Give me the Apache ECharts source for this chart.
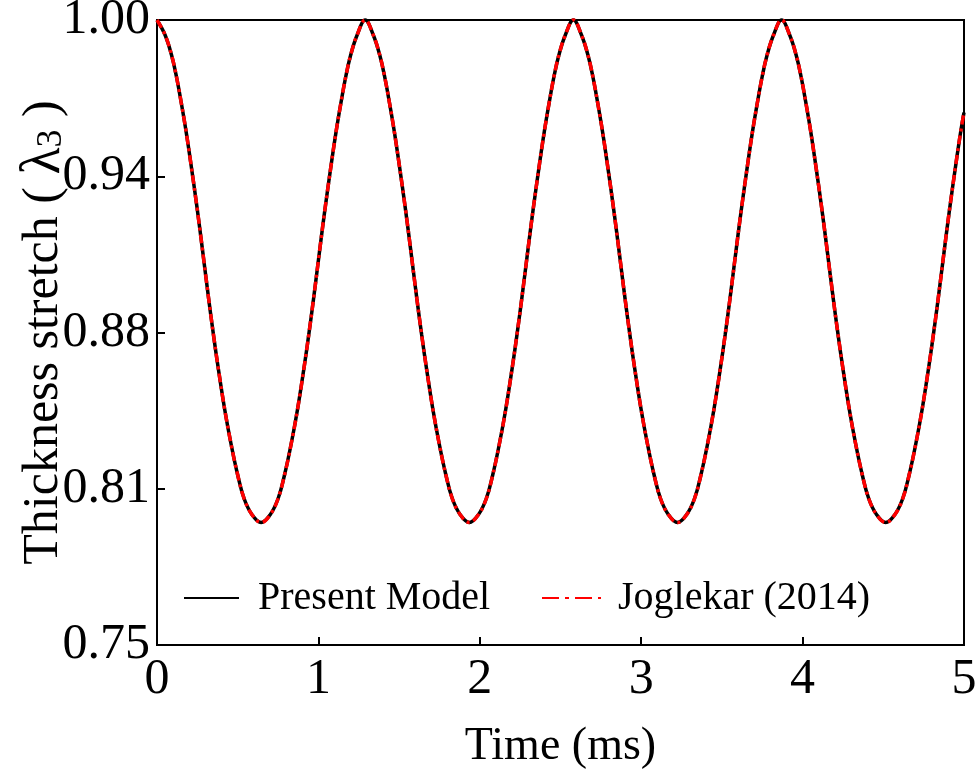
<!DOCTYPE html>
<html>
<head>
<meta charset="utf-8">
<script src="https://cdn.jsdelivr.net/npm/echarts@6/dist/echarts.min.js"></script>
<style>
html,body{margin:0;padding:0;background:#fff;}
#chart{width:976px;height:771px;}
</style>
</head>
<body>
<div id="chart"></div>
<script>
// Time (ms)
var timeMs = [
  0, 0.05, 0.09, 0.12, 0.15, 0.18, 0.21, 0.25, 0.28, 0.32, 0.35, 0.38, 0.42, 0.46, 0.50, 0.54, 0.59, 0.645,
  0.70, 0.75, 0.79, 0.83, 0.87, 0.91, 0.94, 0.97, 1.01, 1.04, 1.08, 1.11, 1.14, 1.17, 1.20, 1.24, 1.29,
  1.34, 1.38, 1.41, 1.44, 1.47, 1.50, 1.54, 1.57, 1.61, 1.64, 1.67, 1.71, 1.75, 1.79, 1.83, 1.88, 1.935,
  1.99, 2.04, 2.08, 2.12, 2.16, 2.20, 2.23, 2.26, 2.30, 2.33, 2.37, 2.40, 2.43, 2.46, 2.49, 2.53, 2.58,
  2.63, 2.67, 2.70, 2.73, 2.76, 2.79, 2.83, 2.86, 2.90, 2.93, 2.96, 3.00, 3.04, 3.08, 3.12, 3.17, 3.225,
  3.28, 3.33, 3.37, 3.41, 3.45, 3.49, 3.52, 3.55, 3.59, 3.62, 3.66, 3.69, 3.72, 3.75, 3.78, 3.82, 3.87,
  3.92, 3.96, 3.99, 4.02, 4.05, 4.08, 4.12, 4.15, 4.19, 4.22, 4.25, 4.29, 4.33, 4.37, 4.41, 4.46, 4.515,
  4.57, 4.62, 4.66, 4.70, 4.74, 4.78, 4.81, 4.84, 4.88, 4.91, 4.95, 4.98, 5.00
];
// Thickness stretch, Present Model
var presentModel = [
  1.0000, 0.9940, 0.9860, 0.9775, 0.9670, 0.9555, 0.9425, 0.9240, 0.9090, 0.8885, 0.8740, 0.8605, 0.8440, 0.8300, 0.8180, 0.8085, 0.8020, 0.7990,
  0.8020, 0.8085, 0.8180, 0.8300, 0.8440, 0.8605, 0.8740, 0.8885, 0.9090, 0.9240, 0.9425, 0.9555, 0.9670, 0.9775, 0.9860, 0.9940, 1.0000,
  0.9940, 0.9860, 0.9775, 0.9670, 0.9555, 0.9425, 0.9240, 0.9090, 0.8885, 0.8740, 0.8605, 0.8440, 0.8300, 0.8180, 0.8085, 0.8020, 0.7990,
  0.8020, 0.8085, 0.8180, 0.8300, 0.8440, 0.8605, 0.8740, 0.8885, 0.9090, 0.9240, 0.9425, 0.9555, 0.9670, 0.9775, 0.9860, 0.9940, 1.0000,
  0.9940, 0.9860, 0.9775, 0.9670, 0.9555, 0.9425, 0.9240, 0.9090, 0.8885, 0.8740, 0.8605, 0.8440, 0.8300, 0.8180, 0.8085, 0.8020, 0.7990,
  0.8020, 0.8085, 0.8180, 0.8300, 0.8440, 0.8605, 0.8740, 0.8885, 0.9090, 0.9240, 0.9425, 0.9555, 0.9670, 0.9775, 0.9860, 0.9940, 1.0000,
  0.9940, 0.9860, 0.9775, 0.9670, 0.9555, 0.9425, 0.9240, 0.9090, 0.8885, 0.8740, 0.8605, 0.8440, 0.8300, 0.8180, 0.8085, 0.8020, 0.7990,
  0.8020, 0.8085, 0.8180, 0.8300, 0.8440, 0.8605, 0.8740, 0.8885, 0.9090, 0.9240, 0.9425, 0.9555, 0.9630
];
// Thickness stretch, Joglekar (2014) (overlaps the present model)
var joglekar = [
  1.0000, 0.9940, 0.9860, 0.9775, 0.9670, 0.9555, 0.9425, 0.9240, 0.9090, 0.8885, 0.8740, 0.8605, 0.8440, 0.8300, 0.8180, 0.8085, 0.8020, 0.7990,
  0.8020, 0.8085, 0.8180, 0.8300, 0.8440, 0.8605, 0.8740, 0.8885, 0.9090, 0.9240, 0.9425, 0.9555, 0.9670, 0.9775, 0.9860, 0.9940, 1.0000,
  0.9940, 0.9860, 0.9775, 0.9670, 0.9555, 0.9425, 0.9240, 0.9090, 0.8885, 0.8740, 0.8605, 0.8440, 0.8300, 0.8180, 0.8085, 0.8020, 0.7990,
  0.8020, 0.8085, 0.8180, 0.8300, 0.8440, 0.8605, 0.8740, 0.8885, 0.9090, 0.9240, 0.9425, 0.9555, 0.9670, 0.9775, 0.9860, 0.9940, 1.0000,
  0.9940, 0.9860, 0.9775, 0.9670, 0.9555, 0.9425, 0.9240, 0.9090, 0.8885, 0.8740, 0.8605, 0.8440, 0.8300, 0.8180, 0.8085, 0.8020, 0.7990,
  0.8020, 0.8085, 0.8180, 0.8300, 0.8440, 0.8605, 0.8740, 0.8885, 0.9090, 0.9240, 0.9425, 0.9555, 0.9670, 0.9775, 0.9860, 0.9940, 1.0000,
  0.9940, 0.9860, 0.9775, 0.9670, 0.9555, 0.9425, 0.9240, 0.9090, 0.8885, 0.8740, 0.8605, 0.8440, 0.8300, 0.8180, 0.8085, 0.8020, 0.7990,
  0.8020, 0.8085, 0.8180, 0.8300, 0.8440, 0.8605, 0.8740, 0.8885, 0.9090, 0.9240, 0.9425, 0.9555, 0.9630
];
var yTickLabels = ["0.75", "0.81", "0.88", "0.94", "1.00"];
var xTickLabels = ["0", "1", "2", "3", "4", "5"];
var seriesNames = ["Present Model", "Joglekar (2014)"];

function pairs(xs, ys) { return xs.map(function (x, i) { return [x, ys[i]]; }); }

var FONT = '"Liberation Serif", "Times New Roman", serif';
var chart = echarts.init(document.getElementById('chart'), null, {renderer: 'canvas'});
chart.setOption({
  backgroundColor: '#fff',
  animation: false,
  textStyle: {fontFamily: FONT, color: '#000'},
  grid: {left: 157, right: 12, top: 20, bottom: 126, containLabel: false, outerBoundsMode: 'none',
         show: true, borderColor: '#000', borderWidth: 2, backgroundColor: 'transparent'},
  legend: [
    {data: [seriesNames[0]], left: 183, top: 578, itemWidth: 55, itemHeight: 14, padding: 0,
     itemStyle: {opacity: 0},
     textStyle: {fontFamily: FONT, fontSize: 40, color: '#000', padding: [0, 0, 0, 14]}, selectedMode: false},
    {data: [seriesNames[1]], left: 541, top: 578, itemWidth: 59, itemHeight: 14, padding: 0,
     itemStyle: {opacity: 0},
     lineStyle: {type: [17, 6, 4, 6]},
     textStyle: {fontFamily: FONT, fontSize: 40, color: '#000', padding: [0, 0, 0, 12]}, selectedMode: false}
  ],
  xAxis: {
    type: 'value', min: 0, max: 5, interval: 1,
    name: 'Time (ms)', nameLocation: 'middle', nameGap: 79, nameMoveOverlap: false,
    nameTextStyle: {fontFamily: FONT, fontSize: 46, color: '#000'},
    axisLine: {show: true, onZero: false, lineStyle: {color: '#000', width: 2}},
    axisTick: {show: true, inside: true, length: 8, lineStyle: {color: '#000', width: 2}},
    axisLabel: {fontFamily: FONT, fontSize: 50, color: '#000', margin: 10,
      formatter: function (v) { return xTickLabels[Math.round(v)]; }},
    splitLine: {show: false}
  },
  yAxis: {
    type: 'value', min: 0.75, max: 1.0, interval: 0.0625,
    name: '{a|Thickness stretch ( }{g|λ}{s|3}{a| )}', nameLocation: 'middle', nameGap: 85, nameRotate: 90,
    nameMoveOverlap: false,
    nameTextStyle: {fontFamily: FONT, fontSize: 50, color: '#000',
      rich: {
        a: {fontFamily: FONT, fontSize: 50, color: '#000'},
        g: {fontFamily: FONT, fontSize: 56, color: '#000'},
        s: {fontFamily: FONT, fontSize: 36, color: '#000', padding: [16, 0, 0, 0]}
      }},
    axisLine: {show: true, onZero: false, lineStyle: {color: '#000', width: 2}},
    axisTick: {show: true, inside: true, length: 8, lineStyle: {color: '#000', width: 2}},
    axisLabel: {fontFamily: FONT, fontSize: 50, color: '#000', margin: 7,
      formatter: function (v) { return yTickLabels[Math.round((v - 0.75) / 0.0625)]; }},
    splitLine: {show: false}
  },
  series: [
    {name: seriesNames[0], type: 'line', data: pairs(timeMs, presentModel), symbol: 'none', smooth: 0.4, clip: false,
     lineStyle: {color: '#000', width: 3.5, type: 'solid'}, itemStyle: {color: '#000'}, z: 2},
    {name: seriesNames[1], type: 'line', data: pairs(timeMs, joglekar), symbol: 'none', smooth: 0.4, clip: false,
     lineStyle: {color: '#ff0000', width: 3.5, type: [9, 4, 3, 4]}, itemStyle: {color: '#ff0000'}, z: 3}
  ]
});
</script>
</body>
</html>
